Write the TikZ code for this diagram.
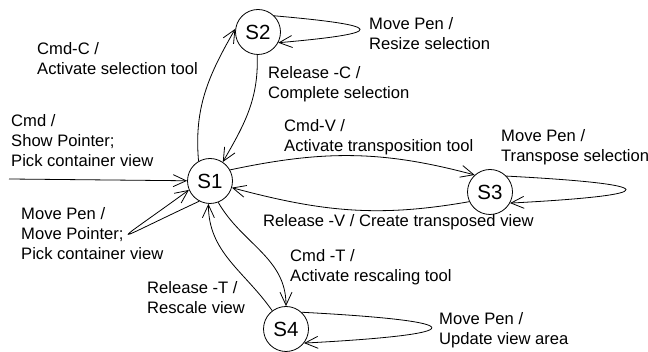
\documentclass[tikz,border=0pt]{standalone}
\usepackage{fontspec}
\setmainfont{Liberation Sans}
\usetikzlibrary{arrows.meta}
\begin{document}
\begin{tikzpicture}[x=1pt,y=1pt,
  state/.style={draw,circle,line width=0.8pt,minimum size=45pt,inner sep=0pt,font=\fontsize{20.5}{24}\selectfont},
  lbl/.style={anchor=north west,inner sep=0pt,align=left,font=\fontsize{16.6}{20}\selectfont},
  edge/.style={line width=0.8pt,-{Straight Barb[length=13pt,width=12pt]}}]
\useasboundingbox (0,0) rectangle (648,352);
\node[state] (S1) at (210,171) {S1};
\node[state] (S2) at (258,320) {S2};
\node[state] (S3) at (490,160) {S3};
\node[state] (S4) at (286,23) {S4};
\coordinate (init) at (9,173);
% edges
\draw[edge] (init) -- (S1);
\draw[edge] (S1.120) to[out=95,in=240] (S2.172);
\draw[edge] (S2.268) to[out=-88,in=60] (S1.56);
\draw[edge] (S1.29) to[out=12,in=165] (S3.132);
\draw[edge] (S3.205) to[out=190,in=-15] (S1.-17);
\draw[edge] (S1.291) to[out=-60,in=90] (S4.90);
\draw[edge] (S4.127) to[out=125,in=-90] (S1.266);
% self loops
\draw[edge] (S2.45) .. controls +(-5:112) and +(5:112) .. (S2.-28);
\draw[edge] (S3.44) .. controls +(-3:157) and +(3:157) .. (S3.-29);
\draw[edge] (S4.47) .. controls +(-3:172) and +(3:172) .. (S4.-38);
\draw[edge] (S1.242) .. controls +(205:102) and +(216:102) .. (S1.203);
% labels
\node[lbl] (l1) at (37,310) {Cmd-C /\\Activate selection tool};
\node[lbl] (l2) at (268,286) {Release -C /\\Complete selection};
\node[lbl] (l3) at (369,335) {Move Pen /\\Resize selection};
\node[lbl] (l4) at (11,238) {Cmd /\\Show Pointer;\\Pick container view};
\node[lbl] (l5) at (284,233) {Cmd-V /\\Activate transposition tool};
\node[lbl] (l6) at (501,223) {Move Pen /\\Transpose selection};
\node[lbl] (l7) at (263,138) {Release -V / Create transposed view};
\node[lbl] (l8) at (21,145) {Move Pen /\\Move Pointer;\\Pick container view};
\node[lbl] (l9) at (290,103) {Cmd -T /\\Activate rescaling tool};
\node[lbl] (l10) at (147,71) {Release -T /\\Rescale view};
\node[lbl] (l11) at (439,40) {Move Pen /\\Update view area};
\end{tikzpicture}
\end{document}
